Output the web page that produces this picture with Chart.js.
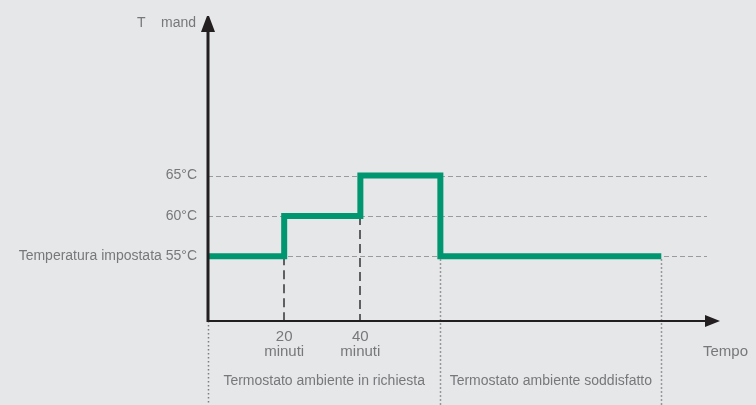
<!DOCTYPE html>
<html>
<head>
<meta charset="utf-8">
<script src="https://cdn.jsdelivr.net/npm/chart.js@4"></script>
<style>
  body { margin: 0; background: #e6e7e8; }
  canvas { display: block; }
</style>
</head>
<body>
<canvas id="stepChart" width="756" height="405"></canvas>
<script>
// minutes on x, flow temperature on y (step points)
const minuti = [0, 20, 40, 61, 119];
const temperatura = [55, 60, 65, 55, 55];
const yTicks = [55, 60, 65];
const xTicks = [20, 40];
const faseConfini = [0, 61, 119];
const faseLabels = ['Termostato ambiente in richiesta', 'Termostato ambiente soddisfatto'];

const grigio = '#77787b';
const nero = '#231f20';
const verde = '#009670';
const font = '"Liberation Sans", Arial, sans-serif';

const decor = {
  id: 'decor',
  beforeDraw(chart) {
    const { ctx, chartArea: a, scales: { x, y } } = chart;
    ctx.save();
    ctx.fillStyle = '#e6e7e8';
    ctx.fillRect(0, 0, chart.width, chart.height);
    // dashed reference lines
    ctx.strokeStyle = '#9a9b9d';
    ctx.lineWidth = 1;
    ctx.setLineDash([5, 3]);
    yTicks.forEach(v => {
      const py = Math.round(y.getPixelForValue(v)) + 0.5;
      ctx.beginPath();
      ctx.moveTo(a.left, py);
      ctx.lineTo(a.right, py);
      ctx.stroke();
    });
    // dashed drops at 20 / 40 minutes
    ctx.strokeStyle = '#5f6062';
    ctx.lineWidth = 2;
    ctx.setLineDash([9, 5]);
    xTicks.forEach(v => {
      const i = minuti.indexOf(v);
      const px = Math.round(x.getPixelForValue(v));
      ctx.beginPath();
      ctx.moveTo(px, y.getPixelForValue(temperatura[i - 1]));
      ctx.lineTo(px, a.bottom);
      ctx.stroke();
    });
    ctx.restore();
  },
  afterDraw(chart) {
    const { ctx, chartArea: a, scales: { x, y } } = chart;
    ctx.save();
    // dotted phase separators
    ctx.strokeStyle = '#7d7e80';
    ctx.lineWidth = 1.5;
    ctx.setLineDash([1.5, 2.5]);
    faseConfini.forEach(v => {
      const px = Math.round(x.getPixelForValue(v)) + 0.5;
      const top = v === 0 ? a.bottom : y.getPixelForValue(55) + 3;
      ctx.beginPath();
      ctx.moveTo(px, top);
      ctx.lineTo(px, chart.height);
      ctx.stroke();
    });
    ctx.setLineDash([]);

    // axes
    ctx.strokeStyle = nero;
    ctx.fillStyle = nero;
    ctx.lineWidth = 3;
    ctx.beginPath();
    ctx.moveTo(a.left, a.bottom + 1);
    ctx.lineTo(a.left, a.top);
    ctx.stroke();
    ctx.beginPath();
    ctx.moveTo(a.left - 1, a.top + 2);
    ctx.lineTo(a.left - 7, a.top + 2);
    ctx.lineTo(a.left - 1, a.top - 14);
    ctx.lineTo(a.left + 1, a.top - 14);
    ctx.lineTo(a.left + 7, a.top + 2);
    ctx.closePath();
    ctx.fill();

    ctx.lineWidth = 2;
    ctx.beginPath();
    ctx.moveTo(a.left, a.bottom);
    ctx.lineTo(a.right, a.bottom);
    ctx.stroke();
    ctx.beginPath();
    ctx.moveTo(a.right - 2, a.bottom - 6);
    ctx.lineTo(a.right + 13, a.bottom);
    ctx.lineTo(a.right - 2, a.bottom + 6);
    ctx.closePath();
    ctx.fill();

    // texts
    ctx.fillStyle = grigio;
    ctx.textBaseline = 'middle';
    ctx.font = '14px ' + font;
    ctx.textAlign = 'left';
    ctx.fillText('T', 137, 23);
    ctx.fillText('mand', 161, 23);
    ctx.font = '15px ' + font;
    ctx.fillText('Tempo', 703, 352);
    ctx.font = '14px ' + font;
    ctx.textAlign = 'center';
    faseLabels.forEach((t, i) => {
      const cx = (x.getPixelForValue(faseConfini[i]) + x.getPixelForValue(faseConfini[i + 1])) / 2;
      ctx.fillText(t, cx, 381);
    });
    ctx.restore();
  }
};

new Chart(document.getElementById('stepChart'), {
  type: 'line',
  data: {
    datasets: [{
      data: minuti.map((m, i) => ({ x: m, y: temperatura[i] })),
      borderColor: verde,
      borderWidth: 6,
      stepped: 'before',
      borderJoinStyle: 'miter',
      borderCapStyle: 'butt',
      pointRadius: 0,
      fill: false
    }]
  },
  options: {
    responsive: false,
    devicePixelRatio: 1,
    animation: false,
    layout: { padding: { top: 30, right: 49, left: 0, bottom: 0 } },
    plugins: { legend: { display: false }, tooltip: { enabled: false } },
    scales: {
      x: {
        type: 'linear',
        min: 0,
        max: 131,
        afterFit: s => { s.height = 84; },
        afterBuildTicks: s => { s.ticks = xTicks.map(v => ({ value: v })); },
        grid: { display: false },
        border: { display: false },
        ticks: {
          padding: 1,
          maxRotation: 0,
          color: grigio,
          font: { family: font, size: 15, lineHeight: 0.95 },
          callback: v => [String(v), 'minuti']
        }
      },
      y: {
        type: 'linear',
        min: 47,
        max: 83,
        afterFit: s => { s.width = 208; },
        afterBuildTicks: s => { s.ticks = yTicks.map(v => ({ value: v })); },
        grid: { display: false },
        border: { display: false },
        ticks: {
          padding: 3,
          color: grigio,
          font: { family: font, size: 14 },
          callback: v => v === 55 ? 'Temperatura impostata 55°C' : v + '°C'
        }
      }
    }
  },
  plugins: [decor]
});
</script>
</body>
</html>
